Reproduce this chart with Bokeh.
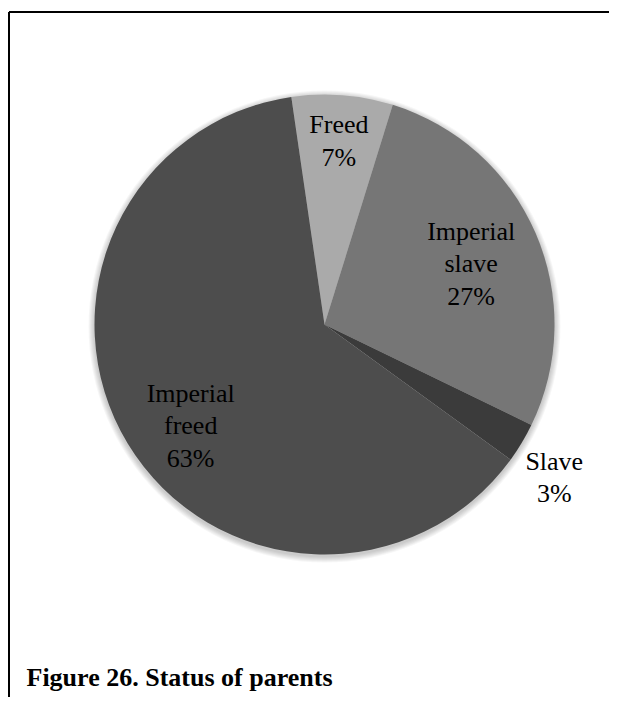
import math
from bokeh.plotting import figure
from bokeh.models import Range1d, ColumnDataSource, Label
from bokeh.core.properties import value
from bokeh.embed import file_html
from bokeh.resources import INLINE

# ---- data ----
categories = ["Freed", "Imperial\nslave", "Slave", "Imperial\nfreed"]
shares = [7.1, 27.4, 2.8, 62.7]
colors = ["#aaaaaa", "#767676", "#3b3b3b", "#4d4d4d"]
label_radius_factor = [0.80, 0.69, 1.20, 0.73]
label_angle_nudge_deg = [0.0, 1.0, 2.7, -6.0]
first_slice_offset_deg = -8.3   # clockwise from 12 o'clock
title_text = "Figure 26. Status of parents"

W, H = 609, 697
R = 230
C = 324  # pie centre, in figure pixels
# data units == pixels; pie centre at (0, 0)
p = figure(width=W, height=H, output_backend="svg", toolbar_location=None,
           x_range=Range1d(-C, W - C), y_range=Range1d(C - H, C),
           min_border=0, outline_line_color=None)
p.axis.visible = False
p.grid.visible = False
p.background_fill_color = "white"
p.border_fill_color = "white"

# soft shadow
for k in range(1, 7):
    p.circle(x=[0], y=[-2], radius=R + k, fill_color="black",
             fill_alpha=0.035, line_color=None)

total = sum(shares)
theta = first_slice_offset_deg
starts, ends, lx, ly, labels = [], [], [], [], []
for cat, s, f, nd in zip(categories, shares, label_radius_factor, label_angle_nudge_deg):
    d = 360.0 * s / total
    t0, t1 = theta, theta + d
    starts.append(math.radians(90 - t1))
    ends.append(math.radians(90 - t0))
    mid = math.radians((t0 + t1) / 2 + nd)
    lx.append(R * f * math.sin(mid))
    ly.append(R * f * math.cos(mid))
    labels.append(f"{cat}\n{round(100 * s / total)}%")
    theta = t1

src = ColumnDataSource(dict(start=starts, end=ends, color=colors,
                            x=lx, y=ly, label=labels))
p.wedge(x=0, y=0, radius=R, start_angle="start", end_angle="end",
        fill_color="color", line_color=None, source=src)

p.text(x="x", y="y", text="label", source=src, text_align="center",
       text_baseline="middle", text_font=value("Liberation Serif"),
       text_font_size="26px", text_color="black", text_line_height=1.12)

# frame lines (top and left)
p.segment(x0=[-315.5, -315.5], y0=[312.5, 312.5], x1=[W - C, -315.5], y1=[312.5, C - H],
          line_color="black", line_width=2)

p.add_layout(Label(x=-298, y=-353, text=title_text,
                   text_font="Liberation Serif", text_font_style="bold",
                   text_font_size="26px", text_color="black",
                   text_baseline="alphabetic"))

open("out.html", "w").write(file_html(p, INLINE))
